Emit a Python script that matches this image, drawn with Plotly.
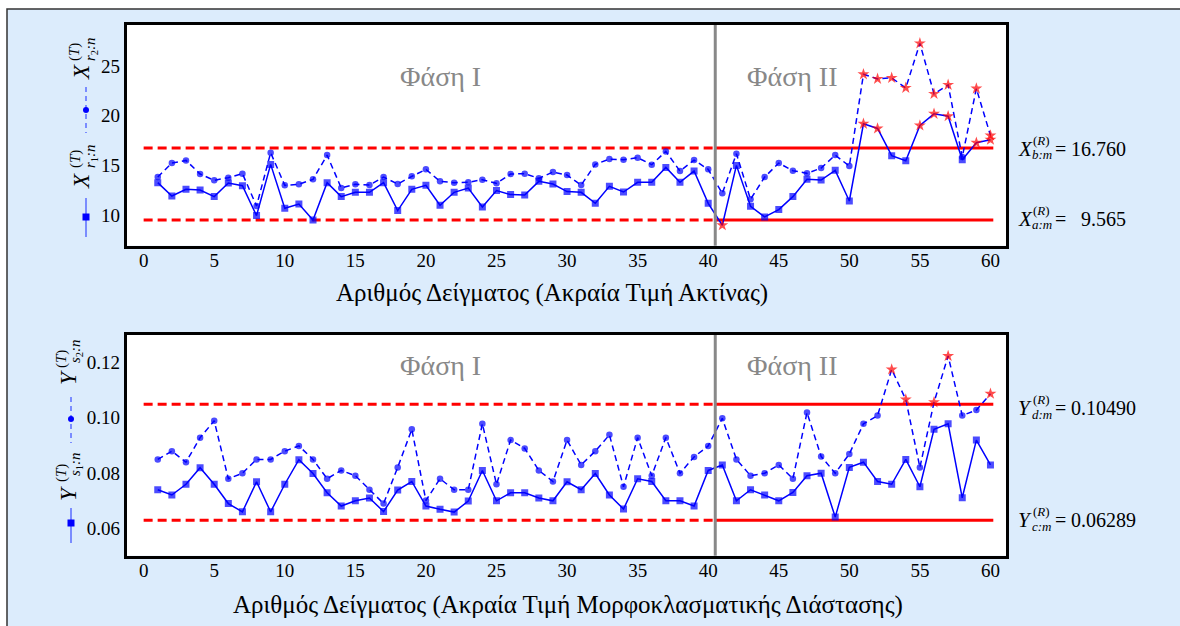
import plotly.graph_objects as go

W, H = 1180, 626

# ---------------- data ----------------
samples = list(range(1, 61))

x_r1 = [13.30, 11.96, 12.63, 12.56, 11.90, 13.26, 13.00, 10.00, 15.13, 10.73,
        11.16, 9.56, 13.30, 11.90, 12.33, 12.33, 13.30, 10.50, 12.63, 13.03,
        11.03, 12.33, 12.76, 10.86, 12.50, 12.10, 12.06, 13.43, 13.16, 12.40,
        12.33, 11.23, 12.93, 12.36, 13.33, 13.33, 14.83, 13.33, 14.46, 11.23,
        9.03, 15.03, 10.93, 9.86, 10.60, 11.90, 13.63, 13.56, 14.53, 11.46,
        19.20, 18.73, 16.00, 15.50, 19.03, 20.20, 19.96, 15.60, 17.30, 17.60]

x_r2 = [13.86, 15.26, 15.53, 14.16, 13.53, 13.80, 14.20, 10.96, 16.30, 13.03,
        13.13, 13.63, 16.06, 12.76, 13.13, 13.06, 13.86, 13.16, 13.93, 14.63,
        13.43, 13.30, 13.33, 13.60, 13.23, 14.16, 14.20, 13.73, 14.36, 14.06,
        13.06, 15.13, 15.66, 15.60, 15.80, 15.10, 16.43, 14.46, 15.56, 14.63,
        12.23, 16.20, 11.63, 13.86, 15.26, 14.50, 14.23, 14.76, 16.06, 14.96,
        24.16, 23.70, 23.80, 22.80, 27.26, 22.20, 23.10, 15.86, 22.73, 18.03]

y_s1 = [0.0739, 0.0720, 0.0759, 0.0819, 0.0759, 0.0689, 0.0659, 0.0768, 0.0659, 0.0759,
        0.0848, 0.0798, 0.0728, 0.0680, 0.0699, 0.0709, 0.0660, 0.0738, 0.0769, 0.0680,
        0.0668, 0.0658, 0.0698, 0.0809, 0.0699, 0.0728, 0.0728, 0.0709, 0.0699, 0.0768,
        0.0739, 0.0798, 0.0720, 0.0669, 0.0779, 0.0769, 0.0699, 0.0699, 0.0680, 0.0809,
        0.0829, 0.0699, 0.0739, 0.0720, 0.0699, 0.0729, 0.0790, 0.0799, 0.0640, 0.0820,
        0.0839, 0.0769, 0.0759, 0.0849, 0.0750, 0.0958, 0.0978, 0.0710, 0.0919, 0.0829]

y_s2 = [0.0849, 0.0879, 0.0839, 0.0928, 0.0989, 0.0779, 0.0799, 0.0849, 0.0849, 0.0879,
        0.0898, 0.0849, 0.0779, 0.0809, 0.0790, 0.0739, 0.0689, 0.0820, 0.0958, 0.0700,
        0.0779, 0.0739, 0.0739, 0.0978, 0.0759, 0.0919, 0.0889, 0.0809, 0.0769, 0.0919,
        0.0829, 0.0879, 0.0938, 0.0750, 0.0928, 0.0790, 0.0928, 0.0799, 0.0858, 0.0898,
        0.0998, 0.0849, 0.0790, 0.0799, 0.0829, 0.0779, 0.1019, 0.0860, 0.0799, 0.0869,
        0.0978, 0.1008, 0.1175, 0.1066, 0.0820, 0.1056, 0.1224, 0.1008, 0.1028, 0.1087]

X_a, X_b = 9.565, 16.760
Y_c, Y_d = 0.06289, 0.10490
phase_split = 40.5
limit_start, limit_end = 0, 60.2

x_ticks = list(range(0, 61, 5))
top_y_ticks = [10, 15, 20, 25]
bot_y_ticks = [0.06, 0.08, 0.10, 0.12]

top_title = "Αριθμός Δείγματος (Ακραία Τιμή Ακτίνας)"
bot_title = "Αριθμός Δείγματος (Ακραία Τιμή Μορφοκλασματικής Διάστασης)"
phase1_label = "Φάση I"
phase2_label = "Φάση II"

# ---------------- style ----------------
FONT = "Liberation Serif, Times New Roman, serif"
BLUE = "#0000ff"
RED = "#ff0000"
GRAY = "#888888"
BG = "#dcecfc"


def px(x):
    return x / W


def py(y):
    return 1 - y / H


def marker_spec(vals, lo, hi, base_sym, base_size):
    syms, cols, sizes = [], [], []
    for s, v in zip(samples, vals):
        if s > phase_split and (v < lo or v > hi):
            syms.append("star")
            cols.append(RED)
            sizes.append(9)
        else:
            syms.append(base_sym)
            cols.append(BLUE)
            sizes.append(base_size)
    return dict(symbol=syms, color=cols, size=sizes, line=dict(width=0))


fig = go.Figure()

for (xa, ya, s1, s2, lo, hi) in [("x", "y", x_r1, x_r2, X_a, X_b),
                                  ("x2", "y2", y_s1, y_s2, Y_c, Y_d)]:
    # limit lines: dashed in phase I, solid in phase II
    for lv in (lo, hi):
        fig.add_trace(go.Scatter(x=[limit_start, phase_split], y=[lv, lv], mode="lines",
                                 line=dict(color=RED, width=3, dash="9px,5px"),
                                 xaxis=xa, yaxis=ya, showlegend=False, hoverinfo="skip"))
        fig.add_trace(go.Scatter(x=[phase_split, limit_end], y=[lv, lv], mode="lines",
                                 line=dict(color=RED, width=3),
                                 xaxis=xa, yaxis=ya, showlegend=False, hoverinfo="skip"))
    fig.add_trace(go.Scatter(x=samples, y=s2, mode="lines+markers",
                             line=dict(color=BLUE, width=1.5, dash="6px,4px"),
                             marker=marker_spec(s2, lo, hi, "circle", 6.5),
                             xaxis=xa, yaxis=ya, showlegend=False))
    fig.add_trace(go.Scatter(x=samples, y=s1, mode="lines+markers",
                             line=dict(color=BLUE, width=1.5),
                             marker=marker_spec(s1, lo, hi, "square", 7),
                             xaxis=xa, yaxis=ya, showlegend=False))

axis_common = dict(showline=True, mirror=True, linecolor="black", linewidth=3,
                   showgrid=False, zeroline=False, ticks="",
                   tickfont=dict(family=FONT, size=19, color="black"), automargin=False)

x_dom = [px(126.7), px(1006)]
fig.update_layout(
    width=W, height=H,
    margin=dict(l=0, r=0, t=0, b=0),
    paper_bgcolor=BG, plot_bgcolor="white",
    showlegend=False,
    xaxis=dict(domain=x_dom, range=[-1.2, 61.1], tickvals=x_ticks, anchor="y",
               ticklabelstandoff=-5, **axis_common),
    yaxis=dict(domain=[py(245.7), py(25)], range=[6.98, 29.1], tickvals=top_y_ticks,
               anchor="x", **axis_common),
    xaxis2=dict(domain=x_dom, range=[-1.2, 61.1], tickvals=x_ticks, anchor="y2",
                ticklabelstandoff=-5, **axis_common),
    yaxis2=dict(domain=[py(555.7), py(335)], range=[0.050, 0.130], tickvals=bot_y_ticks,
                tickformat=".2f", anchor="x2", **axis_common),
)

shapes = []
# white margins and outer frame
shapes.append(dict(type="rect", xref="paper", yref="paper", x0=0, x1=1.05, y0=py(9), y1=1.02,
                   fillcolor="white", line=dict(width=0), layer="below"))
shapes.append(dict(type="rect", xref="paper", yref="paper", x0=-0.02, x1=px(7), y0=-0.05, y1=1.02,
                   fillcolor="white", line=dict(width=0), layer="below"))
shapes.append(dict(type="rect", xref="paper", yref="paper", x0=px(7), x1=1.05, y0=-0.05, y1=py(9),
                   fillcolor="rgba(0,0,0,0)", line=dict(color="#333333", width=1.5), layer="below"))
# phase dividers
for xa, ya in [("x", "y domain"), ("x2", "y2 domain")]:
    shapes.append(dict(type="line", xref=xa, yref=ya, x0=phase_split, x1=phase_split, y0=0, y1=1,
                       line=dict(color=GRAY, width=3)))


# legend glyphs (rotated legends on the left)
def legend_glyph(cx, y0, y1, ym, dash, sym):
    shapes.append(dict(type="line", xref="paper", yref="paper", x0=px(cx), x1=px(cx),
                       y0=py(y0), y1=py(y1),
                       line=dict(color="#5a6cff", width=1.5, dash=dash)))
    r = 3.5 if sym == "square" else 3.0
    shapes.append(dict(type="rect" if sym == "square" else "circle", xref="paper", yref="paper",
                       x0=px(cx - r), x1=px(cx + r), y0=py(ym - r), y1=py(ym + r),
                       fillcolor=BLUE, line=dict(width=0)))


legend_glyph(86, 198, 237, 217, "solid", "square")
legend_glyph(86, 87, 133, 110, "5px,4px", "circle")
legend_glyph(71, 508, 543, 523, "solid", "square")
legend_glyph(71, 397, 443, 419, "5px,4px", "circle")

fig.update_layout(shapes=shapes)

ann = []


def txt(text, x, y, size, xanchor="center", yanchor="middle", angle=0, color="black",
        xref="paper", yref="paper"):
    ann.append(dict(text=text, x=x, y=y, xref=xref, yref=yref, showarrow=False,
                    xanchor=xanchor, yanchor=yanchor, textangle=angle,
                    font=dict(family=FONT, size=size, color=color)))


# rotated legend labels: base, superscript (T), subscript
def rot_label(base, sub, bx, by, supx, supy, subx, suby):
    txt("<i>%s</i>" % base, px(bx), py(by), 23, angle=-90)
    txt("(<i>T</i>)", px(supx), py(supy), 15, angle=-90)
    txt(sub, px(subx), py(suby), 15, angle=-90)


rot_label("X", "<i>r</i><sub>1</sub><i>:n</i>", 82, 181, 75, 159, 91, 156)
rot_label("X", "<i>r</i><sub>2</sub><i>:n</i>", 82, 72, 75, 52, 91, 49)
rot_label("Y", "<i>s</i><sub>1</sub><i>:n</i>", 68, 494, 61, 473, 76, 464)
rot_label("Y", "<i>s</i><sub>2</sub><i>:n</i>", 68, 378, 61, 359, 76, 351)


# right-hand limit labels
def lim_label(base, sub, value, yc, num_right):
    txt("<i>%s</i>" % base, px(1016), py(yc), 21, xanchor="left")
    txt("(<i>R</i>)", px(1031), py(yc - 9), 13, xanchor="left")
    txt("<i>%s</i>" % sub, px(1030), py(yc + 6), 13, xanchor="left")
    txt("=", px(1053), py(yc), 20, xanchor="left")
    txt(value, px(num_right), py(yc), 20, xanchor="right")


lim_label("X", "b:m", "%.3f" % X_b, 149, 1128)
lim_label("X", "a:m", "%.3f" % X_a, 219, 1128)
lim_label("Y", "d:m", "%.5f" % Y_d, 408, 1138)
lim_label("Y", "c:m", "%.5f" % Y_c, 520, 1138)

# phase labels
txt(phase1_label, 21, 23.9, 28, color=GRAY, xref="x", yref="y")
txt(phase2_label, 46.0, 23.9, 28, color=GRAY, xref="x", yref="y")
txt(phase1_label, 21, 0.119, 28, color=GRAY, xref="x2", yref="y2")
txt(phase2_label, 46.0, 0.119, 28, color=GRAY, xref="x2", yref="y2")

# axis titles
txt(top_title, px(552), py(293), 25)
txt(bot_title, px(568), py(605), 25)

fig.update_layout(annotations=ann)

fig.write_html("out.html")
